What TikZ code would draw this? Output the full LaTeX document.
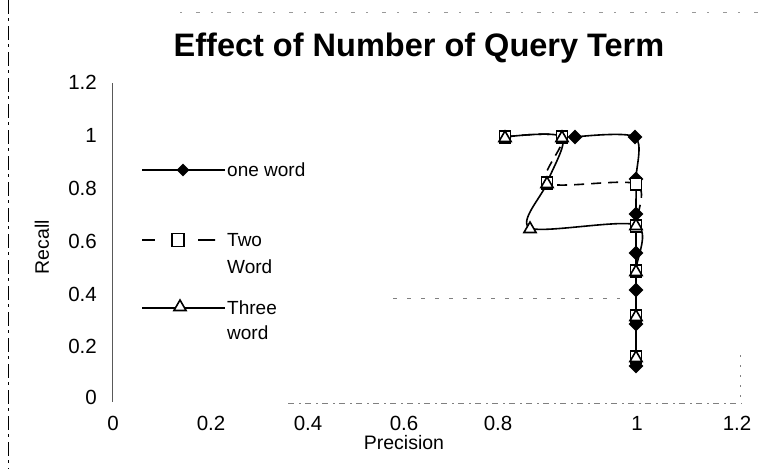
\documentclass[tikz,border=0pt]{standalone}
\usepackage{fontspec}
\setmainfont{Liberation Sans}
\usetikzlibrary{shapes.geometric}
\begin{document}
\begin{tikzpicture}[x=1pt,y=-1pt,
  ticklab/.style={font=\fontsize{20.5}{24}\selectfont, inner sep=0pt},
  legtext/.style={font=\fontsize{19}{27}\selectfont, inner sep=0pt, align=left, anchor=west},
  series/.style={line width=1.6pt, line join=round},
  seriesdash/.style={series, dash pattern=on 10pt off 7pt},
  dmark/.style={diamond, fill=black, inner sep=0pt, minimum width=15pt, minimum height=15pt},
  smark/.style={rectangle, draw=black, fill=white, line width=1.5pt, inner sep=0pt, minimum width=11pt, minimum height=12pt},
  tmark/.style={regular polygon, regular polygon sides=3, draw=black, fill=white, line width=1.6pt, inner sep=0pt, minimum size=15pt},
  scanline/.style={gray, line width=0.7pt}]
\useasboundingbox (0,0) rectangle (764,469);
\fill[white] (0,0) rectangle (764,469);

% page edge and faint rules left by the copy
\coordinate (edgeT) at (8,0);
\coordinate (edgeB) at (8,469);
\draw[black, line width=0.8pt, dash pattern=on 14pt off 4pt on 3pt off 5pt] (edgeT) -- (edgeB);
\coordinate (topL) at (180,12);
\coordinate (topR) at (762,12);
\draw[gray!80, line width=0.6pt, dash pattern=on 2pt off 14pt on 4pt off 11pt] (topL) -- (topR);
\coordinate (gridL) at (393,298);
\coordinate (gridR) at (620,298);
\draw[scanline, dash pattern=on 4pt off 10pt] (gridL) -- (gridR);
\coordinate (rtT) at (740,355);
\coordinate (rtB) at (740,400);
\draw[scanline, dash pattern=on 2pt off 8pt] (rtT) -- (rtB);

% axes
\coordinate (yaxT) at (112,83);
\coordinate (yaxB) at (112,402);
\draw[gray!70!black, line width=0.8pt] (yaxT) -- (yaxB);
\coordinate (xaxL) at (288,403);
\coordinate (xaxR) at (742,403);
\draw[scanline, dash pattern=on 6pt off 5pt on 2pt off 4pt] (xaxL) -- (xaxR);

% title
\node[font=\fontsize{32.5}{38}\selectfont\bfseries, inner sep=0pt] (title) at (419,48) {Effect of Number of Query Term};

% y tick labels
\node[ticklab, anchor=east] (y12) at (97,82) {1.2};
\node[ticklab, anchor=east] (y10) at (97,135) {1};
\node[ticklab, anchor=east] (y08) at (97,188) {0.8};
\node[ticklab, anchor=east] (y06) at (97,241) {0.6};
\node[ticklab, anchor=east] (y04) at (97,294) {0.4};
\node[ticklab, anchor=east] (y02) at (97,346) {0.2};
\node[ticklab, anchor=east] (y00) at (97,397) {0};

% x tick labels
\node[ticklab] (x00) at (113,423) {0};
\node[ticklab] (x02) at (211,423) {0.2};
\node[ticklab] (x04) at (308,423) {0.4};
\node[ticklab] (x06) at (404,423) {0.6};
\node[ticklab] (x08) at (498,423) {0.8};
\node[ticklab] (x10) at (637,423) {1};
\node[ticklab] (x12) at (737,423) {1.2};

% axis titles
\node[ticklab, font=\fontsize{19.5}{23}\selectfont] (xtitle) at (404,443) {Precision};
\node[ticklab, font=\fontsize{19.5}{23}\selectfont, rotate=90] (ytitle) at (42,247) {Recall};

% data points: one word
\coordinate (d1) at (575,137);
\coordinate (d2) at (635,137);
\coordinate (d3) at (636,179);
\coordinate (d4) at (636,214);
\coordinate (d5) at (636,253);
\coordinate (d6) at (636,290);
\coordinate (d7) at (636,324);
\coordinate (d8) at (636,366);
% data points: two word
\coordinate (s1) at (505,137);
\coordinate (s2) at (562,137);
\coordinate (s3) at (547,183);
\coordinate (s4) at (636,184);
\coordinate (s5) at (636,226);
\coordinate (s6) at (636,271);
\coordinate (s7) at (636,316);
\coordinate (s8) at (636,357);
% data points: three word
\coordinate (t1) at (505,137);
\coordinate (t2) at (562,137);
\coordinate (t3) at (547,183);
\coordinate (t4) at (530,228);
\coordinate (t5) at (636,225);
\coordinate (t6) at (636,271);
\coordinate (t7) at (636,316);
\coordinate (t8) at (636,357);

% smoothed series lines
\draw[series] plot[smooth, tension=0.5] coordinates {(d1) (d2) (d3) (d4) (d5) (d6) (d7) (d8)};
\draw[seriesdash] plot[smooth, tension=0.5] coordinates {(s1) (s2) (s3) (s4) (s5) (s6) (s7) (s8)};
\draw[series] plot[smooth, tension=0.5] coordinates {(t1) (t2) (t3) (t4) (t5) (t6) (t7) (t8)};

% markers
\foreach \i in {1,...,8} \node[dmark] (md\i) at (d\i) {};
\foreach \i in {1,...,8} \node[smark] (ms\i) at (s\i) {};
\foreach \i in {1,...,8} \node[tmark, minimum size=14pt] (mt\i) at ([yshift=-1pt]t\i) {};

% legend
\coordinate (la1) at (142,170);
\coordinate (lb1) at (225,170);
\draw[line width=1.3pt] (la1) -- (lb1);
\node[dmark, minimum width=13pt, minimum height=13pt] (lm1) at (183,170) {};
\node[legtext] (lt1) at (227,170) {one word};

\coordinate (la2) at (142,240);
\coordinate (lb2) at (215,240);
\draw[line width=1.3pt, dash pattern=on 13pt off 43pt on 17pt off 0pt] (la2) -- (lb2);
\node[smark, minimum width=12pt, minimum height=13pt] (lm2) at (178,240) {};
\node[legtext] (lt2) at (227,254) {Two\\Word};

\coordinate (la3) at (142,308);
\coordinate (lb3) at (225,308);
\draw[line width=1.3pt] (la3) -- (lb3);
\node[tmark, minimum size=14pt] (lm3) at (180,307) {};
\node[legtext, font=\fontsize{19}{25}\selectfont] (lt3) at (227,320.5) {Three\\word};
\end{tikzpicture}
\end{document}
